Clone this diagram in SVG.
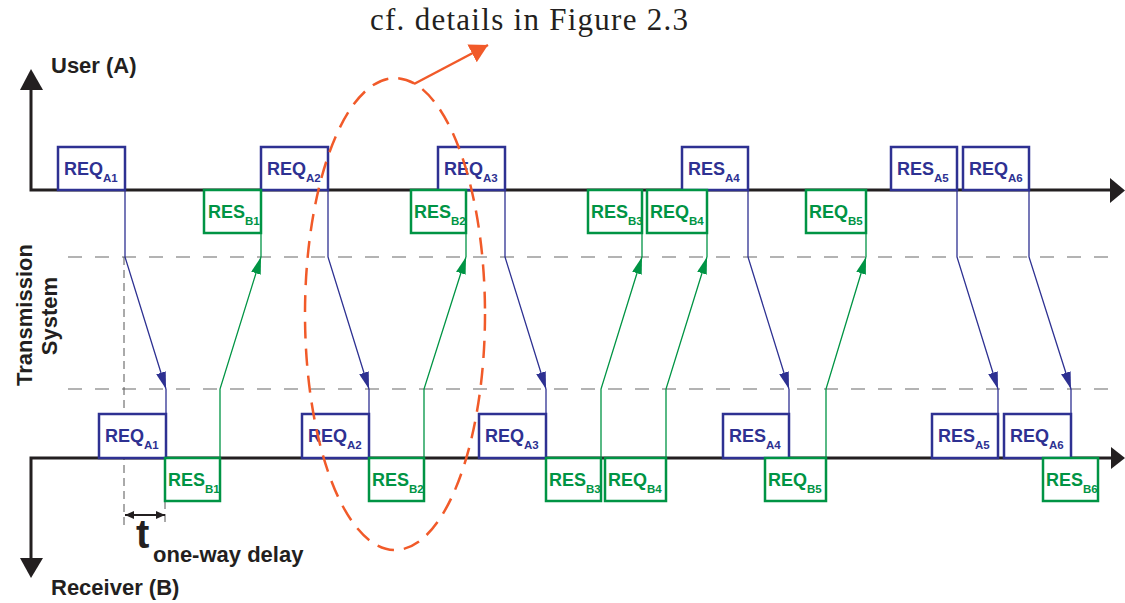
<svg xmlns="http://www.w3.org/2000/svg" width="1125" height="603" viewBox="0 0 1125 603">
<style>
.ax{stroke:#231F20;stroke-width:3;fill:none}
.axh{fill:#231F20}
.grid{stroke:#9A9A9A;stroke-width:1.5;stroke-dasharray:14 13;fill:none}
.bb{fill:#fff;stroke:#2E3192;stroke-width:2.5}
.gb{fill:#fff;stroke:#009444;stroke-width:2.5}
.bt{fill:#2E3192}
.gt{fill:#009444}
.lb{font-family:"Liberation Sans",Arial,sans-serif;font-weight:bold;font-size:18px}
.sub{font-size:11.5px}
.bl{stroke:#2E3192;stroke-width:1.3;fill:none}
.gl{stroke:#009444;stroke-width:1.3;fill:none}
.lbl{font-family:"Liberation Sans",Arial,sans-serif;font-weight:bold;font-size:22px;fill:#231F20}
</style>
<defs>
<marker id="ab" markerUnits="userSpaceOnUse" viewBox="0 0 17 10" refX="17" refY="5" markerWidth="17" markerHeight="10" orient="auto"><path d="M0 0L17 5L0 10z" fill="#2E3192"/></marker>
<marker id="ag" markerUnits="userSpaceOnUse" viewBox="0 0 17 10" refX="17" refY="5" markerWidth="17" markerHeight="10" orient="auto"><path d="M0 0L17 5L0 10z" fill="#009444"/></marker>
<marker id="ak" markerUnits="userSpaceOnUse" viewBox="0 0 9 8" refX="9" refY="4" markerWidth="9" markerHeight="8" orient="auto-start-reverse"><path d="M0 0L9 4L0 8z" fill="#231F20"/></marker>
<marker id="ao" markerUnits="userSpaceOnUse" viewBox="0 0 18 20" refX="18" refY="10" markerWidth="18" markerHeight="20" orient="auto"><path d="M0 0L18 10L0 20z" fill="#F15A29"/></marker>
</defs>

<g id="title">
<text x="370" y="30" font-family="'Liberation Serif','Times New Roman',serif" font-size="31" fill="#231F20" textLength="318" lengthAdjust="spacing">cf. details in Figure 2.3</text>
</g>

<g id="grid">
<path class="grid" d="M68 257H1112M68 389H1112"/>
<path d="M124 257V526M165 501V526" stroke="#555" stroke-width="1" stroke-dasharray="8 5" fill="none"/>
</g>

<g id="axes">
<path class="ax" d="M31 90V190H1111"/>
<path class="axh" d="M20 90L31 69L43 90z"/>
<path class="axh" d="M1110 178L1125 190.5L1110 203z"/>
<path class="ax" d="M31 558V458H1111"/>
<path class="axh" d="M20 558L31 578L43 558z"/>
<path class="axh" d="M1111 447L1125 458L1111 469z"/>
</g>

<g id="labels">
<text class="lbl" x="51" y="73">User (A)</text>
<text class="lbl" x="51" y="595">Receiver (B)</text>
<text class="lbl" transform="translate(32,315) rotate(-90)" text-anchor="middle">Transmission</text>
<text class="lbl" transform="translate(57,316) rotate(-90)" text-anchor="middle">System</text>
<text x="136" y="548" font-family="'Liberation Sans',Arial,sans-serif" font-weight="bold" font-size="40" fill="#231F20">t</text>
<text class="lbl" x="153" y="562">one-way delay</text>
</g>

<g id="connectors">
<path class="bl" d="M125 190V257L166 389" marker-end="url(#ab)"/><path class="bl" d="M166 389V414"/>
<path class="bl" d="M328 190V257L369 389" marker-end="url(#ab)"/><path class="bl" d="M369 389V414"/>
<path class="bl" d="M505 190V257L546 389" marker-end="url(#ab)"/><path class="bl" d="M546 389V414"/>
<path class="bl" d="M748 190V257L789 389" marker-end="url(#ab)"/><path class="bl" d="M789 389V414"/>
<path class="bl" d="M957 190V257L998 389" marker-end="url(#ab)"/><path class="bl" d="M998 389V414"/>
<path class="bl" d="M1029 190V257L1071 389" marker-end="url(#ab)"/><path class="bl" d="M1071 389V414"/>
<path class="gl" d="M220 458V389L261 257" marker-end="url(#ag)"/><path class="gl" d="M261 257V233"/>
<path class="gl" d="M424 458V389L466 257" marker-end="url(#ag)"/><path class="gl" d="M466 257V233"/>
<path class="gl" d="M601 458V389L642 257" marker-end="url(#ag)"/><path class="gl" d="M642 257V233"/>
<path class="gl" d="M666 458V389L707 257" marker-end="url(#ag)"/><path class="gl" d="M707 257V233"/>
<path class="gl" d="M826 458V389L866 257" marker-end="url(#ag)"/><path class="gl" d="M866 257V233"/>
<path d="M125 515H165" stroke="#231F20" stroke-width="1.8" marker-start="url(#ak)" marker-end="url(#ak)"/>
</g>

<g id="user-side">
<g id="uA-REQ-A1"><rect class="bb" x="58" y="147" width="67" height="43"/><text class="lb bt" x="64" y="175">REQ<tspan class="sub" dy="7">A1</tspan></text></g>
<g id="uA-REQ-A2"><rect class="bb" x="261" y="147" width="67" height="43"/><text class="lb bt" x="267" y="175">REQ<tspan class="sub" dy="7">A2</tspan></text></g>
<g id="uA-REQ-A3"><rect class="bb" x="438" y="147" width="67" height="43"/><text class="lb bt" x="444" y="175">REQ<tspan class="sub" dy="7">A3</tspan></text></g>
<g id="uA-RES-A4"><rect class="bb" x="682" y="147" width="66" height="43"/><text class="lb bt" x="688" y="175">RES<tspan class="sub" dy="7">A4</tspan></text></g>
<g id="uA-RES-A5"><rect class="bb" x="891" y="147" width="66" height="43"/><text class="lb bt" x="897" y="175">RES<tspan class="sub" dy="7">A5</tspan></text></g>
<g id="uA-REQ-A6"><rect class="bb" x="963" y="147" width="66" height="43"/><text class="lb bt" x="969" y="175">REQ<tspan class="sub" dy="7">A6</tspan></text></g>
<g id="uA-RES-B1"><rect class="gb" x="204" y="190" width="57" height="43"/><text class="lb gt" x="208" y="218">RES<tspan class="sub" dy="7">B1</tspan></text></g>
<g id="uA-RES-B2"><rect class="gb" x="411" y="190" width="55" height="43"/><text class="lb gt" x="414" y="218">RES<tspan class="sub" dy="7">B2</tspan></text></g>
<g id="uA-RES-B3"><rect class="gb" x="588" y="190" width="54" height="43"/><text class="lb gt" x="591" y="218">RES<tspan class="sub" dy="7">B3</tspan></text></g>
<g id="uA-REQ-B4"><rect class="gb" x="647" y="190" width="60" height="43"/><text class="lb gt" x="650" y="218">REQ<tspan class="sub" dy="7">B4</tspan></text></g>
<g id="uA-REQ-B5"><rect class="gb" x="806" y="190" width="60" height="43"/><text class="lb gt" x="809" y="218">REQ<tspan class="sub" dy="7">B5</tspan></text></g>
</g>

<g id="receiver-side">
<g id="rB-REQ-A1"><rect class="bb" x="99" y="414" width="67" height="44"/><text class="lb bt" x="105" y="442">REQ<tspan class="sub" dy="7">A1</tspan></text></g>
<g id="rB-REQ-A2"><rect class="bb" x="302" y="414" width="67" height="44"/><text class="lb bt" x="308" y="442">REQ<tspan class="sub" dy="7">A2</tspan></text></g>
<g id="rB-REQ-A3"><rect class="bb" x="479" y="414" width="67" height="44"/><text class="lb bt" x="485" y="442">REQ<tspan class="sub" dy="7">A3</tspan></text></g>
<g id="rB-RES-A4"><rect class="bb" x="723" y="414" width="66" height="44"/><text class="lb bt" x="729" y="442">RES<tspan class="sub" dy="7">A4</tspan></text></g>
<g id="rB-RES-A5"><rect class="bb" x="932" y="414" width="66" height="44"/><text class="lb bt" x="938" y="442">RES<tspan class="sub" dy="7">A5</tspan></text></g>
<g id="rB-REQ-A6"><rect class="bb" x="1004" y="414" width="67" height="44"/><text class="lb bt" x="1010" y="442">REQ<tspan class="sub" dy="7">A6</tspan></text></g>
<g id="rB-RES-B1"><rect class="gb" x="165" y="458" width="55" height="43"/><text class="lb gt" x="168" y="486">RES<tspan class="sub" dy="7">B1</tspan></text></g>
<g id="rB-RES-B2"><rect class="gb" x="369" y="458" width="55" height="43"/><text class="lb gt" x="372" y="486">RES<tspan class="sub" dy="7">B2</tspan></text></g>
<g id="rB-RES-B3"><rect class="gb" x="546" y="458" width="55" height="43"/><text class="lb gt" x="549" y="486">RES<tspan class="sub" dy="7">B3</tspan></text></g>
<g id="rB-REQ-B4"><rect class="gb" x="605" y="458" width="61" height="43"/><text class="lb gt" x="608" y="486">REQ<tspan class="sub" dy="7">B4</tspan></text></g>
<g id="rB-REQ-B5"><rect class="gb" x="765" y="458" width="61" height="43"/><text class="lb gt" x="768" y="486">REQ<tspan class="sub" dy="7">B5</tspan></text></g>
<g id="rB-RES-B6"><rect class="gb" x="1043" y="458" width="55" height="43"/><text class="lb gt" x="1046" y="486">RES<tspan class="sub" dy="7">B6</tspan></text></g>
</g>

<g id="highlight">
<ellipse cx="395" cy="314" rx="90" ry="236" fill="none" stroke="#F15A29" stroke-width="2.5" stroke-dasharray="17 10"/>
<path d="M414 84L488 45" stroke="#F15A29" stroke-width="2.5" fill="none" marker-end="url(#ao)"/>
</g>
</svg>
